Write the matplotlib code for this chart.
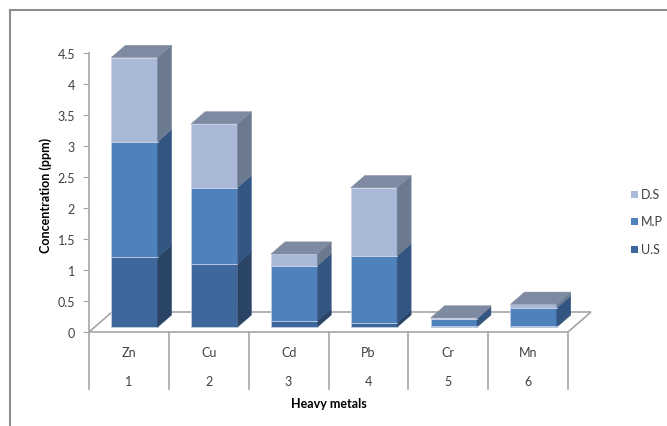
import matplotlib
matplotlib.use("Agg")
import matplotlib.pyplot as plt
from matplotlib.patches import Polygon, Rectangle
from matplotlib.lines import Line2D

# ---- data ----
metals = ["Zn", "Cu", "Cd", "Pb", "Cr", "Mn"]
numbers = ["1", "2", "3", "4", "5", "6"]
series_names = ["U.S", "M.P", "D.S"]
us = [1.13, 1.02, 0.10, 0.07, 0.02, 0.02]
mp = [1.86, 1.23, 0.89, 1.08, 0.11, 0.29]
ds = [1.36, 1.03, 0.19, 1.10, 0.02, 0.06]
yticks = [0, 0.5, 1, 1.5, 2, 2.5, 3, 3.5, 4, 4.5]
ytick_labels = ["0", "0.5", "1", "1.5", "2", "2.5", "3", "3.5", "4", "4.5"]

# ---- style ----
front_cols = ["#3E679B", "#4F81BD", "#AAB9D8"]
side_cols = ["#2A4466", "#325582", "#6C7A8F"]
top_col = "#7E8AA2"
edge_col = "#c9d3e6"
grey = "#a6a6a6"
FONT = ["Lato", "DejaVu Sans"]
plt.rcParams["font.family"] = FONT

W, H = 667, 427
fig = plt.figure(figsize=(W / 100, H / 100), dpi=100)
ax_l, ax_r, ax_b, ax_t = 89, 568, 333, 54
ax = fig.add_axes([ax_l / W, (H - ax_b) / H, (ax_r - ax_l) / W, (ax_b - ax_t) / H])
ax.set_xlim(0, 6)
ax.set_ylim(0, 4.5)
pxx = (ax_r - ax_l) / 6.0
pxy = (ax_b - ax_t) / 4.5

# depth vector of floor (pixels -> data)
ddx, ddy = 23 / pxx, 20 / pxy
f0, f1 = 0.24, 0.85
bdx, bdy = (f1 - f0) * ddx, (f1 - f0) * ddy
bw = 0.58

for s in ax.spines.values():
    s.set_visible(False)
ax.set_xticks([])
ax.set_yticks(yticks)
ax.set_yticklabels(ytick_labels, fontsize=9, color="#404040")
ax.tick_params(axis="y", length=4, color=grey, pad=6)
ax.plot([0, 0], [0, 4.5], color=grey, lw=1.2, clip_on=False, zorder=1)

# floor
ax.add_patch(Polygon([(0, 0), (6, 0), (6 + ddx, ddy), (ddx, ddy)], closed=True,
                     facecolor="white", edgecolor=grey, lw=1.2, clip_on=False, zorder=1))

# bars
for i in range(len(metals)):
    xl = i + 0.5 - bw / 2 + f0 * ddx
    xr = xl + bw
    base = f0 * ddy
    bottom = 0.0
    vals = [us[i], mp[i], ds[i]]
    for k, v in enumerate(vals):
        y0 = base + bottom
        y1 = y0 + v
        ax.add_patch(Rectangle((xl, y0), bw, v, facecolor=front_cols[k],
                               edgecolor=edge_col, lw=0.5, clip_on=False, zorder=3 + i))
        ax.add_patch(Polygon([(xr, y0), (xr + bdx, y0 + bdy), (xr + bdx, y1 + bdy), (xr, y1)],
                             closed=True, facecolor=side_cols[k], edgecolor=side_cols[k],
                             lw=0.3, clip_on=False, zorder=3 + i))
        bottom += v
    yt = base + bottom
    ax.add_patch(Polygon([(xl, yt), (xr, yt), (xr + bdx, yt + bdy), (xl + bdx, yt + bdy)],
                         closed=True, facecolor=top_col, edgecolor=top_col, lw=0.3,
                         clip_on=False, zorder=3 + i))

# category table below floor
y_line_end = -57 / pxy
for j in range(len(metals) + 1):
    ax.plot([j, j], [0, y_line_end], color=grey, lw=1.2, clip_on=False, zorder=1)
for i, (m, n) in enumerate(zip(metals, numbers)):
    ax.text(i + 0.5, -20 / pxy, m, ha="center", va="center", fontsize=9, color="#404040")
    ax.text(i + 0.5, -49 / pxy, n, ha="center", va="center", fontsize=9, color="#404040")

fig.text(329 / W, 1 - 404 / H, "Heavy metals", ha="center", va="center",
         fontsize=9, fontweight="bold", color="black")
fig.text(46 / W, 1 - 195 / H, "Concentration (ppm)", ha="center", va="center",
         rotation=90, fontsize=9, fontweight="bold", color="black")

# legend
leg_y = [195, 222, 250]
for name, col, yy in zip(["D.S", "M.P", "U.S"], [front_cols[2], front_cols[1], front_cols[0]], leg_y):
    fig.patches.append(Rectangle((631 / W, 1 - (yy + 3.5) / H), 7 / W, 7 / H,
                                 transform=fig.transFigure, facecolor=col, edgecolor="none"))
    fig.text(641 / W, 1 - yy / H, name, ha="left", va="center", fontsize=9, color="#404040")

# chart border
fig.add_artist(Line2D([10 / W, 10 / W], [0, 1 - 11 / H], transform=fig.transFigure,
                      color="#8c8c8c", lw=1.5))
fig.add_artist(Line2D([10 / W, 1], [1 - 11 / H, 1 - 11 / H], transform=fig.transFigure,
                      color="#8c8c8c", lw=1.5))

fig.savefig("out.png", dpi=100, facecolor="white")
